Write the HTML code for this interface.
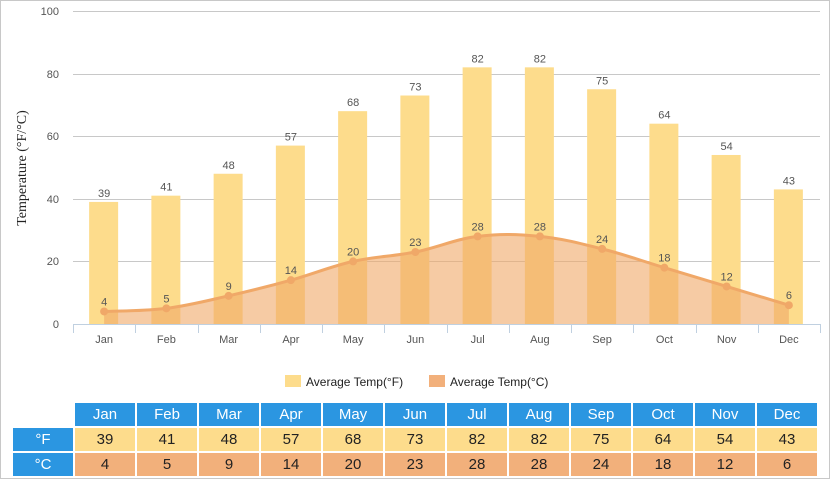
<!DOCTYPE html>
<html><head><meta charset="utf-8"><style>
body{margin:0;width:830px;height:479px;overflow:hidden;background:#fff;font-family:"Liberation Sans",Arial,sans-serif}
.frame{position:absolute;left:0;top:0;width:828px;height:477px;border:1px solid #c8c8c8}
table{position:absolute;left:11px;top:401px;border-collapse:separate;border-spacing:2px;table-layout:fixed}
td{width:60px;min-width:60px;max-width:60px;height:23px;text-align:center;font-size:15px;padding:0;}
.h{background:#2b96e1;color:#fff}
.f{background:#fddc8c;color:#222}
.c{background:#f2b07b;color:#222}
.e{background:transparent}
</style></head><body>
<div class="frame"></div>
<svg width="830" height="400" style="position:absolute;left:0;top:0" font-family="Liberation Sans, Arial, sans-serif">
<g stroke="#c8c8c8" stroke-width="1">
<line x1="73" x2="820" y1="11.5" y2="11.5"/><line x1="73" x2="820" y1="74.5" y2="74.5"/>
<line x1="73" x2="820" y1="136.5" y2="136.5"/><line x1="73" x2="820" y1="199.5" y2="199.5"/>
<line x1="73" x2="820" y1="261.5" y2="261.5"/>
</g>
<g font-size="11" fill="#555" text-anchor="end">
<text x="59" y="15">100</text><text x="59" y="78">80</text><text x="59" y="140">60</text><text x="59" y="203">40</text><text x="59" y="265">20</text><text x="59" y="328">0</text>
</g>
<text transform="translate(26,168) rotate(-90)" text-anchor="middle" font-size="14" font-family="Liberation Serif, serif" fill="#222">Temperature (°F/°C)</text>
<g id="bars" fill="#fddc8c"></g>
<path id="area" fill="#f0a868" fill-opacity="0.6"></path>
<path id="line" fill="none" stroke="#f0a868" stroke-width="3"></path>
<g id="dots" fill="#f0a868"></g>
<g id="labels" font-size="11" fill="#555" text-anchor="middle"></g>
<line x1="73" x2="820" y1="324.5" y2="324.5" stroke="#c0d0e0"/>
<g id="ticks" stroke="#c0d0e0"></g>
<g id="months" font-size="11" fill="#555" text-anchor="middle"></g>
<rect x="285" y="375" width="16" height="12" fill="#fddc8c"/>
<text x="306" y="386" font-size="12" fill="#222">Average Temp(°F)</text>
<rect x="429" y="375" width="16" height="12" fill="#f2b07b"/>
<text x="450" y="386" font-size="12" fill="#222">Average Temp(°C)</text>
</svg>
<table>
<tr><td class="e"></td><td class="h">Jan</td><td class="h">Feb</td><td class="h">Mar</td><td class="h">Apr</td><td class="h">May</td><td class="h">Jun</td><td class="h">Jul</td><td class="h">Aug</td><td class="h">Sep</td><td class="h">Oct</td><td class="h">Nov</td><td class="h">Dec</td></tr>
<tr><td class="h">°F</td><td class="f">39</td><td class="f">41</td><td class="f">48</td><td class="f">57</td><td class="f">68</td><td class="f">73</td><td class="f">82</td><td class="f">82</td><td class="f">75</td><td class="f">64</td><td class="f">54</td><td class="f">43</td></tr>
<tr><td class="h">°C</td><td class="c">4</td><td class="c">5</td><td class="c">9</td><td class="c">14</td><td class="c">20</td><td class="c">23</td><td class="c">28</td><td class="c">28</td><td class="c">24</td><td class="c">18</td><td class="c">12</td><td class="c">6</td></tr>
</table>
<script>
var F=[39,41,48,57,68,73,82,82,75,64,54,43],C=[4,5,9,14,20,23,28,28,24,18,12,6],
M=["Jan","Feb","Mar","Apr","May","Jun","Jul","Aug","Sep","Oct","Nov","Dec"],ns="http://www.w3.org/2000/svg";
function y(v){return 324-v*3.13}function cx(i){return 73+62.25*(i+0.5)}
function el(p,t,a,tx){var e=document.createElementNS(ns,t);for(var k in a)e.setAttribute(k,a[k]);if(tx!=null)e.textContent=tx;document.getElementById(p).appendChild(e);}
var pts=[];
for(var i=0;i<12;i++){var x=cx(i);
el("bars","rect",{x:x-15,y:y(F[i]),width:29,height:324-y(F[i])});
el("labels","text",{x:x,y:y(F[i])-5},F[i]);
el("labels","text",{x:x,y:y(C[i])-6},C[i]);
el("dots","circle",{cx:x,cy:y(C[i]),r:4});
el("months","text",{x:x,y:343},M[i]);
pts.push([x,y(C[i])]);}
for(var i=0;i<=12;i++){var x=Math.round(73+62.25*i)+0.5;el("ticks","line",{x1:x,x2:x,y1:324,y2:333});}
var d="M"+pts[0][0]+","+pts[0][1];
for(var i=1;i<12;i++){var p0=pts[Math.max(i-2,0)],p1=pts[i-1],p2=pts[i],p3=pts[Math.min(i+1,11)],t=0.18;
d+=" C"+(p1[0]+(p2[0]-p0[0])*t)+","+(p1[1]+(p2[1]-p0[1])*t)+" "+(p2[0]-(p3[0]-p1[0])*t)+","+(p2[1]-(p3[1]-p1[1])*t)+" "+p2[0]+","+p2[1];}
document.getElementById("line").setAttribute("d",d);
document.getElementById("area").setAttribute("d",d+" L"+pts[11][0]+",324 L"+pts[0][0]+",324 Z");
</script>
</body></html>
